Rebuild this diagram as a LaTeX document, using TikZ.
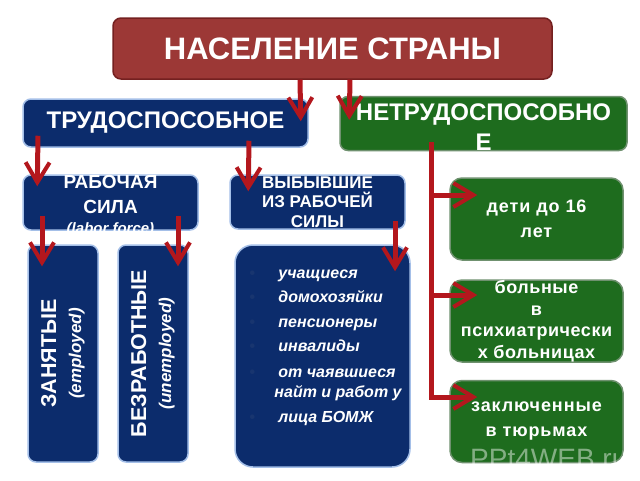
\documentclass[tikz,border=0pt]{standalone}
\usepackage{fontspec}
\setmainfont{Liberation Sans}
\usepackage{xcolor}
\usepackage{tikz}
\usetikzlibrary{positioning, arrows.meta}
\definecolor{popred}{HTML}{9C3836}
\definecolor{popredline}{HTML}{742020}
\definecolor{arrowred}{HTML}{B3171D}
\definecolor{navyfill}{HTML}{0C2C6C}
\definecolor{navyline}{HTML}{A4BFE8}
\definecolor{greenfill}{HTML}{1E6C1E}
\definecolor{greenline}{HTML}{6F916F}
\definecolor{dimdot}{HTML}{18356F}
\newcommand{\dimbullet}{\makebox[29pt][l]{\textcolor{dimdot}{\smash{\textbullet}}}}

\begin{document}
\begin{tikzpicture}[x=1pt, y=-1pt,
    box/.style={rounded corners=8pt, inner sep=0pt, text=white, align=center},
    navybox/.style={box, fill=navyfill, draw=navyline, line width=1.5pt},
    greenbox/.style={box, rounded corners=12pt, fill=greenfill, draw=greenline,
                     line width=1.5pt, minimum width=173pt, minimum height=82pt,
                     font=\bfseries\fontsize{18}{25}\selectfont\addfontfeature{LetterSpace=5}},
    link/.style={draw=arrowred, line width=5pt,
                 -{Straight Barb[length=20pt, width=24pt, line width=4pt]}}]
  \useasboundingbox (0,0) rectangle (640,480);

  % top level
  \node[box, fill=popred, draw=popredline, line width=1.5pt,
        minimum width=439pt, minimum height=61pt,
        font=\bfseries\fontsize{31}{36}\selectfont] (nas) at (332.5,48.5) {НАСЕЛЕНИЕ СТРАНЫ};

  \node[navybox, minimum width=285pt, minimum height=48pt,
        font=\bfseries\fontsize{24}{28}\selectfont] (tr) at (165.5,123) {ТРУДОСПОСОБНОЕ};
  \node[box, fill=greenfill, draw=greenline, line width=1.5pt,
        minimum width=287pt, minimum height=51pt,
        font=\bfseries\fontsize{24}{30}\selectfont] (ntr) at (483.5,123.5) {\rule{0pt}{24pt}НЕТРУДОСПОСОБНО\\Е};

  % labour force and the rest
  \node[navybox, minimum width=175pt, minimum height=55pt] (rs) at (110.5,202.5) {};
  \node[anchor=north, inner sep=0pt, text=white, align=center,
        font=\bfseries\fontsize{19}{25}\selectfont] (rstext) at ([yshift=-0.5pt]rs.north)
        {РАБОЧАЯ\\СИЛА\\[-5pt]{\itshape\fontsize{15}{18}\selectfont (labor force)}};
  \node[navybox, minimum width=175pt, minimum height=54pt,
        font=\bfseries\fontsize{17}{19.5}\selectfont] (vyb) at (317.5,202) {ВЫБЫВШИЕ\\ИЗ РАБОЧЕЙ\\СИЛЫ};

  \node[navybox, rotate=90, minimum width=217pt, minimum height=70pt,
        font=\bfseries\fontsize{21.5}{25}\selectfont] (zan) at (63,353.5)
        {ЗАНЯТЫЕ\\{\itshape\fontsize{17}{20}\selectfont (employed)}};
  \node[navybox, rotate=90, minimum width=217pt, minimum height=70pt,
        font=\bfseries\fontsize{21.5}{25}\selectfont] (bez) at (153,353.5)
        {БЕЗРАБОТНЫЕ\\{\itshape\fontsize{17}{20}\selectfont (unemployed)}};

  \node[navybox, rounded corners=18pt, minimum width=175pt, minimum height=222pt] (lst) at (322.5,356) {};
  \node[anchor=north west, inner sep=0pt, text=white, align=left,
        font=\bfseries\itshape\fontsize{16}{24.5}\selectfont] (lsttext) at ([xshift=15pt,yshift=-25pt]lst.north west)
        {\dimbullet учащиеся\\
         \dimbullet домохозяйки\\
         \dimbullet пенсионеры\\
         \dimbullet инвалиды\\[1.5pt]
         \dimbullet от чаявшиеся\\[-4.5pt]
         \hspace*{25pt}найт и работ у\\
         \dimbullet лица БОМЖ};

  % not able to work
  \node[greenbox] (g1) at (536.5,219) {дети до 16\\лет};
  \node[greenbox, font=\bfseries\fontsize{18}{21.5}\selectfont\addfontfeature{LetterSpace=3}] (g2) at (536.5,321)
        {больные\\в\\психиатрически\\х больницах};
  \node[greenbox] (g3) at (536.5,421.5) {заключенные\\в тюрьмах};

  \begin{scope}
    \clip (440,0) rectangle (640,463);
    \node[anchor=base west, inner sep=0pt, text=white, text opacity=0.45,
          font=\fontsize{28}{30}\selectfont] (mark) at (470,468) {PPt4WEB.ru};
  \end{scope}

  % connectors
  \draw[link] ([xshift=-32.5pt]nas.south) -- ([xshift=-8pt,yshift=-23pt]tr.north east);
  \draw[link] ([xshift=17.5pt]nas.south) -- ([xshift=10pt,yshift=-24pt]ntr.north west);
  \draw[link] ([xshift=-127.5pt,yshift=12pt]tr.south) -- ([xshift=15pt,yshift=-12pt]rs.north west);
  \draw[link] ([xshift=83.5pt,yshift=7pt]tr.south) -- ([xshift=19pt,yshift=-17pt]vyb.north west);
  \draw[link] ([xshift=-68.5pt,yshift=15pt]rs.south) -- ([xshift=-21pt,yshift=-22pt]zan.east);
  \draw[link] ([xshift=67.5pt,yshift=15pt]rs.south) -- ([xshift=25pt,yshift=-22pt]bez.east);
  \draw[link] ([xshift=77.5pt,yshift=9pt]vyb.south) -- ([xshift=72.5pt,yshift=-27pt]lst.north);
  \draw[link] ([xshift=-52.5pt,yshift=9pt]ntr.south) |- ([xshift=28pt,yshift=24pt]g1.west);
  \draw[link] ([xshift=-52.5pt,yshift=9pt]ntr.south) |- ([xshift=28pt,yshift=26pt]g2.west);
  \draw[link] ([xshift=-52.5pt,yshift=9pt]ntr.south) |- ([xshift=28pt,yshift=24.5pt]g3.west);
\end{tikzpicture}
\end{document}
